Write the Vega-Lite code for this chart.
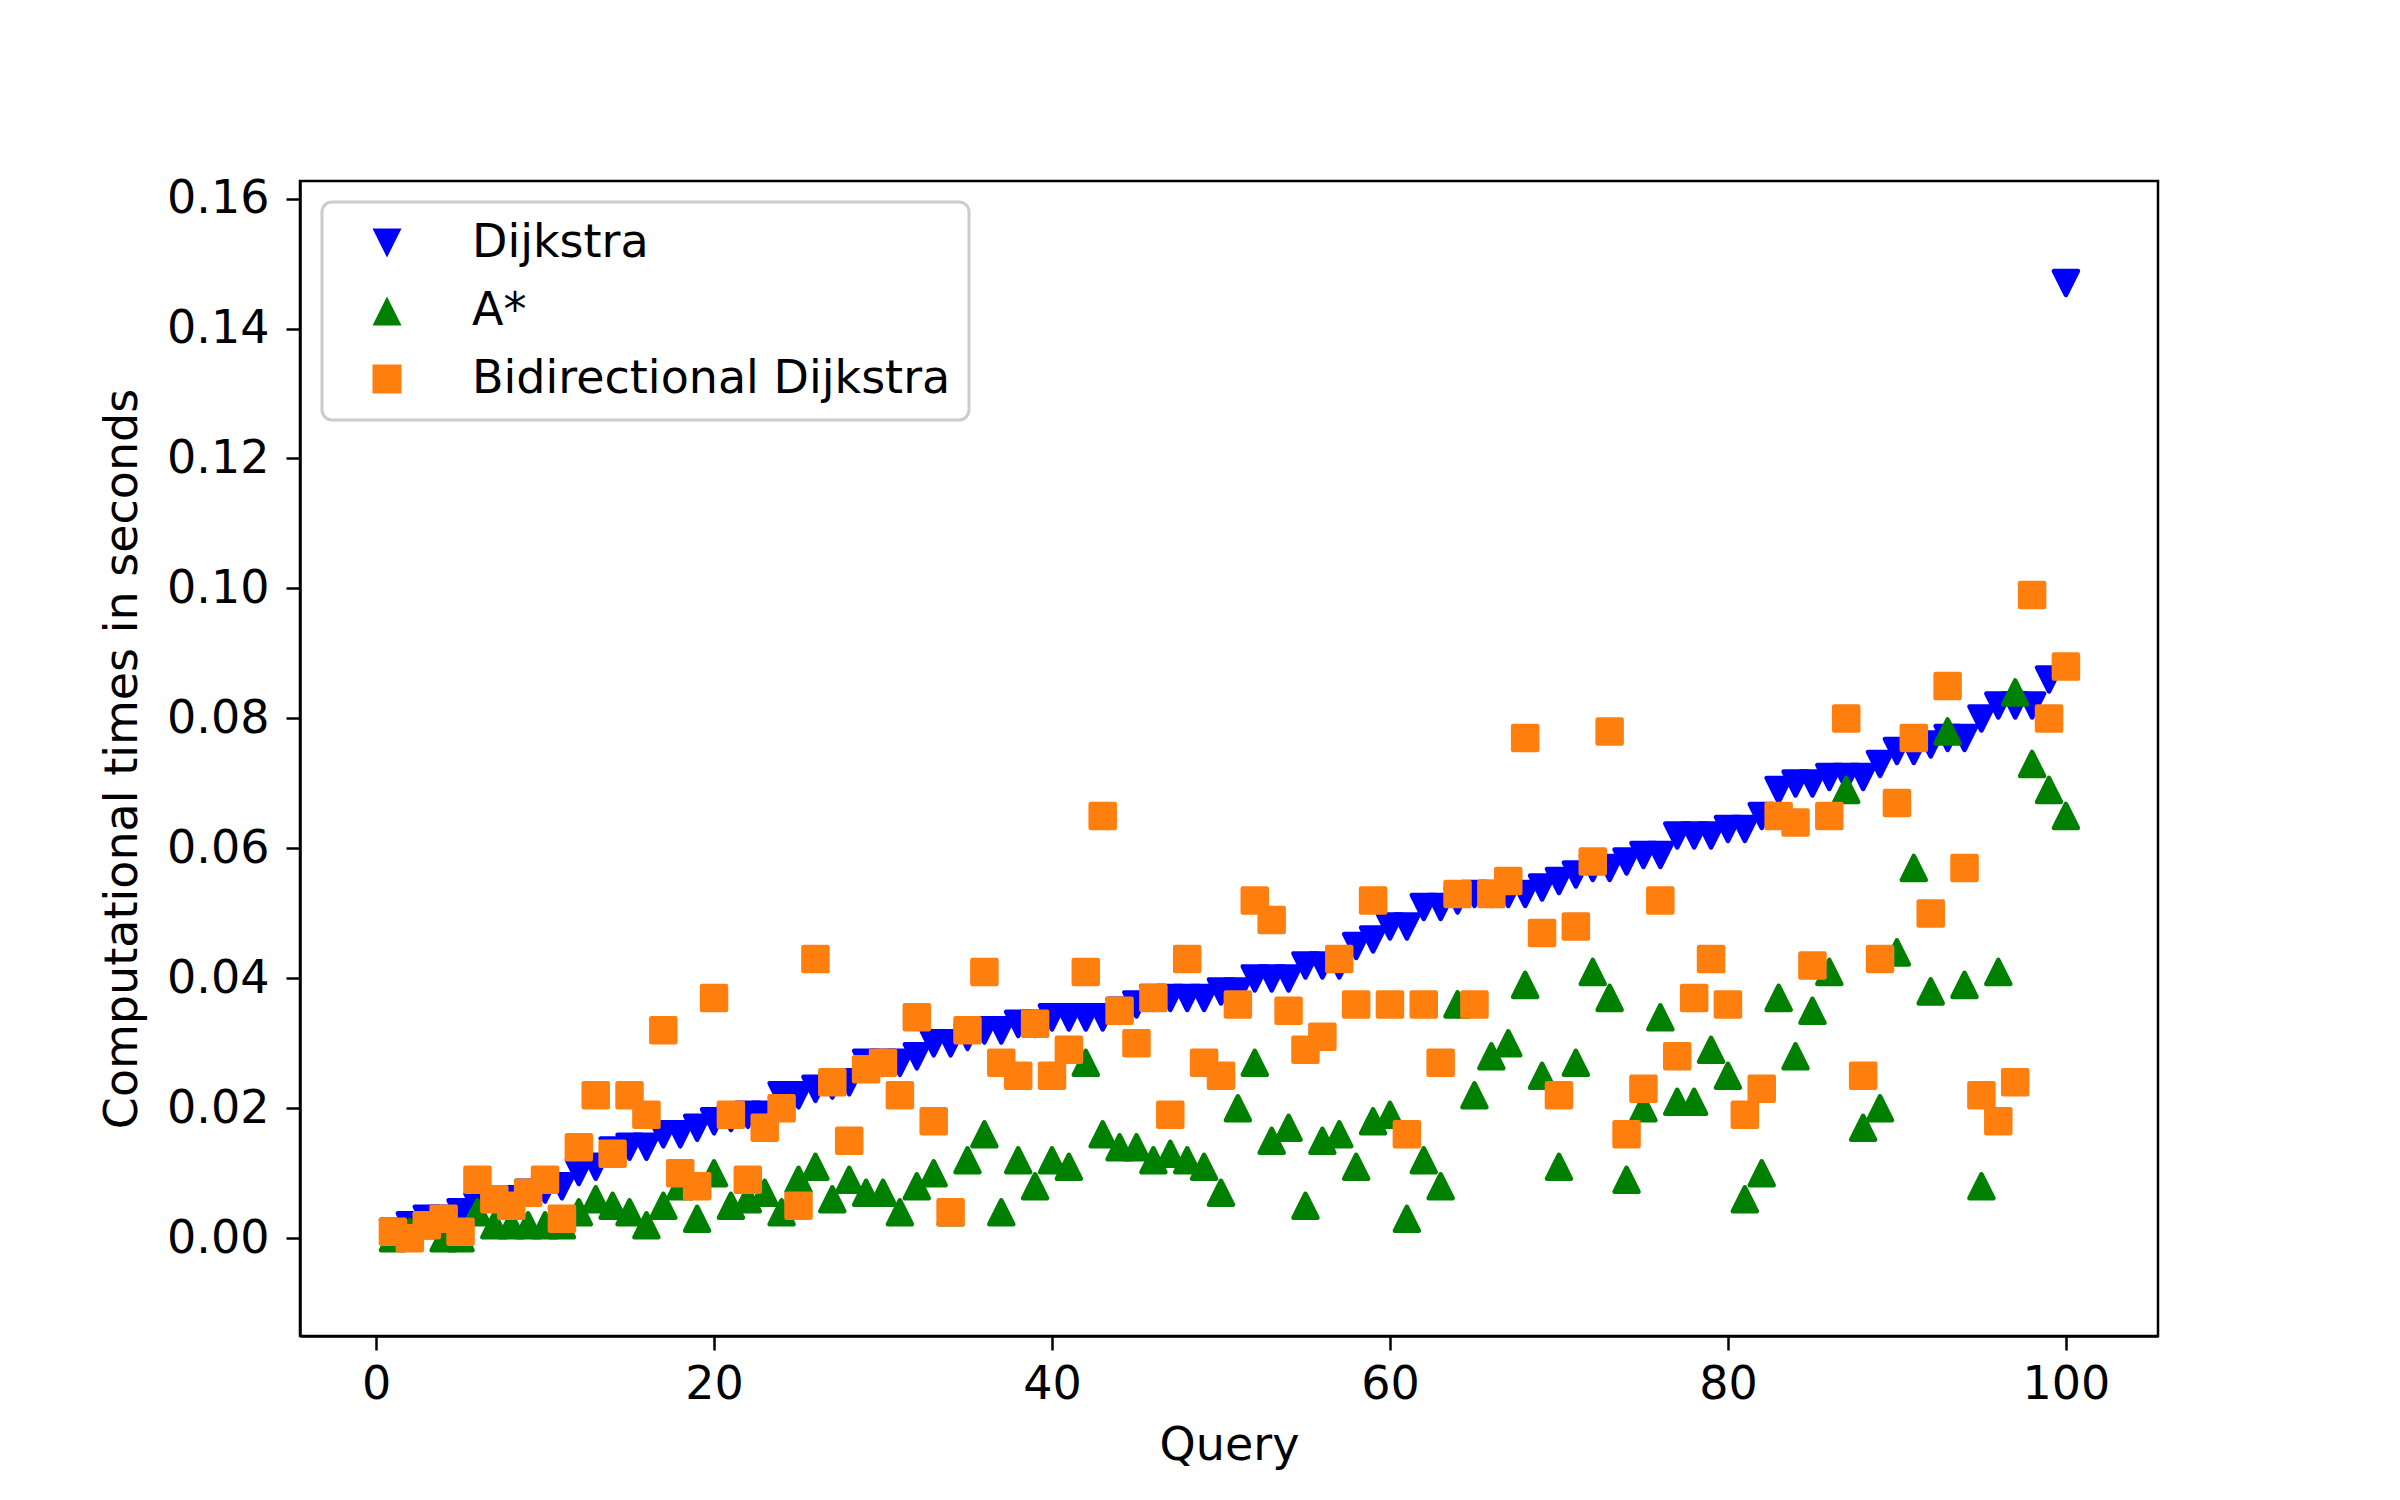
{
"$schema": "https://vega.github.io/schema/vega-lite/v6.json",
"width": 1858,
"height": 1155,
"autosize": {"type": "none"},
"padding": {"left": 300, "top": 181, "right": 242, "bottom": 164},
"background": "white",
"config": {"view": {"stroke": "black", "strokeWidth": 2.5}, "font": "DejaVu Sans",
 "legend": {"orient": "none", "legendX": 22, "legendY": 21, "fillColor": "rgba(255,255,255,0.8)", "strokeColor": "#cccccc", "strokeWidth": 3, "cornerRadius": 10, "padding": 18, "symbolSize": 841, "symbolOffset": 24, "labelOffset": 62, "rowPadding": 22, "symbolStrokeWidth": 0, "symbolOpacity": 1, "labelFont": "DejaVu Sans", "labelFontSize": 46, "labelColor": "black", "labelLimit": 0}},
"data": {"values": [
{"query":1,"algorithm":"Dijkstra","time":0.001},{"query":2,"algorithm":"Dijkstra","time":0.002},{"query":3,"algorithm":"Dijkstra","time":0.003},{"query":4,"algorithm":"Dijkstra","time":0.003},{"query":5,"algorithm":"Dijkstra","time":0.004},{"query":6,"algorithm":"Dijkstra","time":0.005},{"query":7,"algorithm":"Dijkstra","time":0.006},{"query":8,"algorithm":"Dijkstra","time":0.006},{"query":9,"algorithm":"Dijkstra","time":0.007},{"query":10,"algorithm":"Dijkstra","time":0.0075},
{"query":11,"algorithm":"Dijkstra","time":0.008},{"query":12,"algorithm":"Dijkstra","time":0.0102},{"query":13,"algorithm":"Dijkstra","time":0.011},{"query":14,"algorithm":"Dijkstra","time":0.0135},{"query":15,"algorithm":"Dijkstra","time":0.0141},{"query":16,"algorithm":"Dijkstra","time":0.0141},{"query":17,"algorithm":"Dijkstra","time":0.016},{"query":18,"algorithm":"Dijkstra","time":0.016},{"query":19,"algorithm":"Dijkstra","time":0.017},{"query":20,"algorithm":"Dijkstra","time":0.018},
{"query":21,"algorithm":"Dijkstra","time":0.0185},{"query":22,"algorithm":"Dijkstra","time":0.019},{"query":23,"algorithm":"Dijkstra","time":0.019},{"query":24,"algorithm":"Dijkstra","time":0.022},{"query":25,"algorithm":"Dijkstra","time":0.022},{"query":26,"algorithm":"Dijkstra","time":0.023},{"query":27,"algorithm":"Dijkstra","time":0.0235},{"query":28,"algorithm":"Dijkstra","time":0.024},{"query":29,"algorithm":"Dijkstra","time":0.027},{"query":30,"algorithm":"Dijkstra","time":0.027},
{"query":31,"algorithm":"Dijkstra","time":0.027},{"query":32,"algorithm":"Dijkstra","time":0.028},{"query":33,"algorithm":"Dijkstra","time":0.030},{"query":34,"algorithm":"Dijkstra","time":0.030},{"query":35,"algorithm":"Dijkstra","time":0.031},{"query":36,"algorithm":"Dijkstra","time":0.032},{"query":37,"algorithm":"Dijkstra","time":0.032},{"query":38,"algorithm":"Dijkstra","time":0.033},{"query":39,"algorithm":"Dijkstra","time":0.033},{"query":40,"algorithm":"Dijkstra","time":0.034},
{"query":41,"algorithm":"Dijkstra","time":0.034},{"query":42,"algorithm":"Dijkstra","time":0.034},{"query":43,"algorithm":"Dijkstra","time":0.034},{"query":44,"algorithm":"Dijkstra","time":0.035},{"query":45,"algorithm":"Dijkstra","time":0.036},{"query":46,"algorithm":"Dijkstra","time":0.037},{"query":47,"algorithm":"Dijkstra","time":0.037},{"query":48,"algorithm":"Dijkstra","time":0.037},{"query":49,"algorithm":"Dijkstra","time":0.037},{"query":50,"algorithm":"Dijkstra","time":0.038},
{"query":51,"algorithm":"Dijkstra","time":0.038},{"query":52,"algorithm":"Dijkstra","time":0.040},{"query":53,"algorithm":"Dijkstra","time":0.040},{"query":54,"algorithm":"Dijkstra","time":0.040},{"query":55,"algorithm":"Dijkstra","time":0.042},{"query":56,"algorithm":"Dijkstra","time":0.042},{"query":57,"algorithm":"Dijkstra","time":0.042},{"query":58,"algorithm":"Dijkstra","time":0.045},{"query":59,"algorithm":"Dijkstra","time":0.046},{"query":60,"algorithm":"Dijkstra","time":0.048},
{"query":61,"algorithm":"Dijkstra","time":0.048},{"query":62,"algorithm":"Dijkstra","time":0.051},{"query":63,"algorithm":"Dijkstra","time":0.051},{"query":64,"algorithm":"Dijkstra","time":0.052},{"query":65,"algorithm":"Dijkstra","time":0.053},{"query":66,"algorithm":"Dijkstra","time":0.053},{"query":67,"algorithm":"Dijkstra","time":0.053},{"query":68,"algorithm":"Dijkstra","time":0.053},{"query":69,"algorithm":"Dijkstra","time":0.054},{"query":70,"algorithm":"Dijkstra","time":0.055},
{"query":71,"algorithm":"Dijkstra","time":0.056},{"query":72,"algorithm":"Dijkstra","time":0.057},{"query":73,"algorithm":"Dijkstra","time":0.057},{"query":74,"algorithm":"Dijkstra","time":0.058},{"query":75,"algorithm":"Dijkstra","time":0.059},{"query":76,"algorithm":"Dijkstra","time":0.059},{"query":77,"algorithm":"Dijkstra","time":0.062},{"query":78,"algorithm":"Dijkstra","time":0.062},{"query":79,"algorithm":"Dijkstra","time":0.062},{"query":80,"algorithm":"Dijkstra","time":0.063},
{"query":81,"algorithm":"Dijkstra","time":0.063},{"query":82,"algorithm":"Dijkstra","time":0.065},{"query":83,"algorithm":"Dijkstra","time":0.069},{"query":84,"algorithm":"Dijkstra","time":0.070},{"query":85,"algorithm":"Dijkstra","time":0.070},{"query":86,"algorithm":"Dijkstra","time":0.071},{"query":87,"algorithm":"Dijkstra","time":0.071},{"query":88,"algorithm":"Dijkstra","time":0.071},{"query":89,"algorithm":"Dijkstra","time":0.073},{"query":90,"algorithm":"Dijkstra","time":0.075},
{"query":91,"algorithm":"Dijkstra","time":0.075},{"query":92,"algorithm":"Dijkstra","time":0.076},{"query":93,"algorithm":"Dijkstra","time":0.077},{"query":94,"algorithm":"Dijkstra","time":0.077},{"query":95,"algorithm":"Dijkstra","time":0.080},{"query":96,"algorithm":"Dijkstra","time":0.082},{"query":97,"algorithm":"Dijkstra","time":0.082},{"query":98,"algorithm":"Dijkstra","time":0.082},{"query":99,"algorithm":"Dijkstra","time":0.086},{"query":100,"algorithm":"Dijkstra","time":0.147},
{"query":1,"algorithm":"A*","time":0.0},{"query":2,"algorithm":"A*","time":0.001},{"query":3,"algorithm":"A*","time":0.002},{"query":4,"algorithm":"A*","time":0.0},{"query":5,"algorithm":"A*","time":0.0},{"query":6,"algorithm":"A*","time":0.004},{"query":7,"algorithm":"A*","time":0.002},{"query":8,"algorithm":"A*","time":0.002},{"query":9,"algorithm":"A*","time":0.002},{"query":10,"algorithm":"A*","time":0.002},
{"query":11,"algorithm":"A*","time":0.002},{"query":12,"algorithm":"A*","time":0.004},{"query":13,"algorithm":"A*","time":0.006},{"query":14,"algorithm":"A*","time":0.005},{"query":15,"algorithm":"A*","time":0.004},{"query":16,"algorithm":"A*","time":0.002},{"query":17,"algorithm":"A*","time":0.005},{"query":18,"algorithm":"A*","time":0.008},{"query":19,"algorithm":"A*","time":0.003},{"query":20,"algorithm":"A*","time":0.010},
{"query":21,"algorithm":"A*","time":0.005},{"query":22,"algorithm":"A*","time":0.006},{"query":23,"algorithm":"A*","time":0.007},{"query":24,"algorithm":"A*","time":0.004},{"query":25,"algorithm":"A*","time":0.009},{"query":26,"algorithm":"A*","time":0.011},{"query":27,"algorithm":"A*","time":0.006},{"query":28,"algorithm":"A*","time":0.009},{"query":29,"algorithm":"A*","time":0.007},{"query":30,"algorithm":"A*","time":0.007},
{"query":31,"algorithm":"A*","time":0.004},{"query":32,"algorithm":"A*","time":0.008},{"query":33,"algorithm":"A*","time":0.010},{"query":34,"algorithm":"A*","time":0.004},{"query":35,"algorithm":"A*","time":0.012},{"query":36,"algorithm":"A*","time":0.016},{"query":37,"algorithm":"A*","time":0.004},{"query":38,"algorithm":"A*","time":0.012},{"query":39,"algorithm":"A*","time":0.008},{"query":40,"algorithm":"A*","time":0.012},
{"query":41,"algorithm":"A*","time":0.011},{"query":42,"algorithm":"A*","time":0.027},{"query":43,"algorithm":"A*","time":0.016},{"query":44,"algorithm":"A*","time":0.014},{"query":45,"algorithm":"A*","time":0.014},{"query":46,"algorithm":"A*","time":0.012},{"query":47,"algorithm":"A*","time":0.013},{"query":48,"algorithm":"A*","time":0.012},{"query":49,"algorithm":"A*","time":0.011},{"query":50,"algorithm":"A*","time":0.007},
{"query":51,"algorithm":"A*","time":0.020},{"query":52,"algorithm":"A*","time":0.027},{"query":53,"algorithm":"A*","time":0.015},{"query":54,"algorithm":"A*","time":0.017},{"query":55,"algorithm":"A*","time":0.005},{"query":56,"algorithm":"A*","time":0.015},{"query":57,"algorithm":"A*","time":0.016},{"query":58,"algorithm":"A*","time":0.011},{"query":59,"algorithm":"A*","time":0.018},{"query":60,"algorithm":"A*","time":0.019},
{"query":61,"algorithm":"A*","time":0.003},{"query":62,"algorithm":"A*","time":0.012},{"query":63,"algorithm":"A*","time":0.008},{"query":64,"algorithm":"A*","time":0.036},{"query":65,"algorithm":"A*","time":0.022},{"query":66,"algorithm":"A*","time":0.028},{"query":67,"algorithm":"A*","time":0.030},{"query":68,"algorithm":"A*","time":0.039},{"query":69,"algorithm":"A*","time":0.025},{"query":70,"algorithm":"A*","time":0.011},
{"query":71,"algorithm":"A*","time":0.027},{"query":72,"algorithm":"A*","time":0.041},{"query":73,"algorithm":"A*","time":0.037},{"query":74,"algorithm":"A*","time":0.009},{"query":75,"algorithm":"A*","time":0.020},{"query":76,"algorithm":"A*","time":0.034},{"query":77,"algorithm":"A*","time":0.021},{"query":78,"algorithm":"A*","time":0.021},{"query":79,"algorithm":"A*","time":0.029},{"query":80,"algorithm":"A*","time":0.025},
{"query":81,"algorithm":"A*","time":0.006},{"query":82,"algorithm":"A*","time":0.010},{"query":83,"algorithm":"A*","time":0.037},{"query":84,"algorithm":"A*","time":0.028},{"query":85,"algorithm":"A*","time":0.035},{"query":86,"algorithm":"A*","time":0.041},{"query":87,"algorithm":"A*","time":0.069},{"query":88,"algorithm":"A*","time":0.017},{"query":89,"algorithm":"A*","time":0.020},{"query":90,"algorithm":"A*","time":0.044},
{"query":91,"algorithm":"A*","time":0.057},{"query":92,"algorithm":"A*","time":0.038},{"query":93,"algorithm":"A*","time":0.078},{"query":94,"algorithm":"A*","time":0.039},{"query":95,"algorithm":"A*","time":0.008},{"query":96,"algorithm":"A*","time":0.041},{"query":97,"algorithm":"A*","time":0.084},{"query":98,"algorithm":"A*","time":0.073},{"query":99,"algorithm":"A*","time":0.069},{"query":100,"algorithm":"A*","time":0.065},
{"query":1,"algorithm":"Bidirectional Dijkstra","time":0.001},{"query":2,"algorithm":"Bidirectional Dijkstra","time":0.0},{"query":3,"algorithm":"Bidirectional Dijkstra","time":0.002},{"query":4,"algorithm":"Bidirectional Dijkstra","time":0.003},{"query":5,"algorithm":"Bidirectional Dijkstra","time":0.001},{"query":6,"algorithm":"Bidirectional Dijkstra","time":0.009},{"query":7,"algorithm":"Bidirectional Dijkstra","time":0.006},{"query":8,"algorithm":"Bidirectional Dijkstra","time":0.005},{"query":9,"algorithm":"Bidirectional Dijkstra","time":0.007},{"query":10,"algorithm":"Bidirectional Dijkstra","time":0.009},
{"query":11,"algorithm":"Bidirectional Dijkstra","time":0.003},{"query":12,"algorithm":"Bidirectional Dijkstra","time":0.014},{"query":13,"algorithm":"Bidirectional Dijkstra","time":0.022},{"query":14,"algorithm":"Bidirectional Dijkstra","time":0.013},{"query":15,"algorithm":"Bidirectional Dijkstra","time":0.022},{"query":16,"algorithm":"Bidirectional Dijkstra","time":0.019},{"query":17,"algorithm":"Bidirectional Dijkstra","time":0.032},{"query":18,"algorithm":"Bidirectional Dijkstra","time":0.010},{"query":19,"algorithm":"Bidirectional Dijkstra","time":0.008},{"query":20,"algorithm":"Bidirectional Dijkstra","time":0.037},
{"query":21,"algorithm":"Bidirectional Dijkstra","time":0.019},{"query":22,"algorithm":"Bidirectional Dijkstra","time":0.009},{"query":23,"algorithm":"Bidirectional Dijkstra","time":0.017},{"query":24,"algorithm":"Bidirectional Dijkstra","time":0.020},{"query":25,"algorithm":"Bidirectional Dijkstra","time":0.005},{"query":26,"algorithm":"Bidirectional Dijkstra","time":0.043},{"query":27,"algorithm":"Bidirectional Dijkstra","time":0.024},{"query":28,"algorithm":"Bidirectional Dijkstra","time":0.015},{"query":29,"algorithm":"Bidirectional Dijkstra","time":0.026},{"query":30,"algorithm":"Bidirectional Dijkstra","time":0.027},
{"query":31,"algorithm":"Bidirectional Dijkstra","time":0.022},{"query":32,"algorithm":"Bidirectional Dijkstra","time":0.034},{"query":33,"algorithm":"Bidirectional Dijkstra","time":0.018},{"query":34,"algorithm":"Bidirectional Dijkstra","time":0.004},{"query":35,"algorithm":"Bidirectional Dijkstra","time":0.032},{"query":36,"algorithm":"Bidirectional Dijkstra","time":0.041},{"query":37,"algorithm":"Bidirectional Dijkstra","time":0.027},{"query":38,"algorithm":"Bidirectional Dijkstra","time":0.025},{"query":39,"algorithm":"Bidirectional Dijkstra","time":0.033},{"query":40,"algorithm":"Bidirectional Dijkstra","time":0.025},
{"query":41,"algorithm":"Bidirectional Dijkstra","time":0.029},{"query":42,"algorithm":"Bidirectional Dijkstra","time":0.041},{"query":43,"algorithm":"Bidirectional Dijkstra","time":0.065},{"query":44,"algorithm":"Bidirectional Dijkstra","time":0.035},{"query":45,"algorithm":"Bidirectional Dijkstra","time":0.030},{"query":46,"algorithm":"Bidirectional Dijkstra","time":0.037},{"query":47,"algorithm":"Bidirectional Dijkstra","time":0.019},{"query":48,"algorithm":"Bidirectional Dijkstra","time":0.043},{"query":49,"algorithm":"Bidirectional Dijkstra","time":0.027},{"query":50,"algorithm":"Bidirectional Dijkstra","time":0.025},
{"query":51,"algorithm":"Bidirectional Dijkstra","time":0.036},{"query":52,"algorithm":"Bidirectional Dijkstra","time":0.052},{"query":53,"algorithm":"Bidirectional Dijkstra","time":0.049},{"query":54,"algorithm":"Bidirectional Dijkstra","time":0.035},{"query":55,"algorithm":"Bidirectional Dijkstra","time":0.029},{"query":56,"algorithm":"Bidirectional Dijkstra","time":0.031},{"query":57,"algorithm":"Bidirectional Dijkstra","time":0.043},{"query":58,"algorithm":"Bidirectional Dijkstra","time":0.036},{"query":59,"algorithm":"Bidirectional Dijkstra","time":0.052},{"query":60,"algorithm":"Bidirectional Dijkstra","time":0.036},
{"query":61,"algorithm":"Bidirectional Dijkstra","time":0.016},{"query":62,"algorithm":"Bidirectional Dijkstra","time":0.036},{"query":63,"algorithm":"Bidirectional Dijkstra","time":0.027},{"query":64,"algorithm":"Bidirectional Dijkstra","time":0.053},{"query":65,"algorithm":"Bidirectional Dijkstra","time":0.036},{"query":66,"algorithm":"Bidirectional Dijkstra","time":0.053},{"query":67,"algorithm":"Bidirectional Dijkstra","time":0.055},{"query":68,"algorithm":"Bidirectional Dijkstra","time":0.077},{"query":69,"algorithm":"Bidirectional Dijkstra","time":0.047},{"query":70,"algorithm":"Bidirectional Dijkstra","time":0.022},
{"query":71,"algorithm":"Bidirectional Dijkstra","time":0.048},{"query":72,"algorithm":"Bidirectional Dijkstra","time":0.058},{"query":73,"algorithm":"Bidirectional Dijkstra","time":0.078},{"query":74,"algorithm":"Bidirectional Dijkstra","time":0.016},{"query":75,"algorithm":"Bidirectional Dijkstra","time":0.023},{"query":76,"algorithm":"Bidirectional Dijkstra","time":0.052},{"query":77,"algorithm":"Bidirectional Dijkstra","time":0.028},{"query":78,"algorithm":"Bidirectional Dijkstra","time":0.037},{"query":79,"algorithm":"Bidirectional Dijkstra","time":0.043},{"query":80,"algorithm":"Bidirectional Dijkstra","time":0.036},
{"query":81,"algorithm":"Bidirectional Dijkstra","time":0.019},{"query":82,"algorithm":"Bidirectional Dijkstra","time":0.023},{"query":83,"algorithm":"Bidirectional Dijkstra","time":0.065},{"query":84,"algorithm":"Bidirectional Dijkstra","time":0.064},{"query":85,"algorithm":"Bidirectional Dijkstra","time":0.042},{"query":86,"algorithm":"Bidirectional Dijkstra","time":0.065},{"query":87,"algorithm":"Bidirectional Dijkstra","time":0.080},{"query":88,"algorithm":"Bidirectional Dijkstra","time":0.025},{"query":89,"algorithm":"Bidirectional Dijkstra","time":0.043},{"query":90,"algorithm":"Bidirectional Dijkstra","time":0.067},
{"query":91,"algorithm":"Bidirectional Dijkstra","time":0.077},{"query":92,"algorithm":"Bidirectional Dijkstra","time":0.050},{"query":93,"algorithm":"Bidirectional Dijkstra","time":0.085},{"query":94,"algorithm":"Bidirectional Dijkstra","time":0.057},{"query":95,"algorithm":"Bidirectional Dijkstra","time":0.022},{"query":96,"algorithm":"Bidirectional Dijkstra","time":0.018},{"query":97,"algorithm":"Bidirectional Dijkstra","time":0.024},{"query":98,"algorithm":"Bidirectional Dijkstra","time":0.099},{"query":99,"algorithm":"Bidirectional Dijkstra","time":0.080},{"query":100,"algorithm":"Bidirectional Dijkstra","time":0.088}
]},
"mark": {"type": "point", "filled": true, "size": 576, "strokeWidth": 4.5, "strokeJoin": "round", "opacity": 1, "fillOpacity": 1, "strokeOpacity": 1},
"encoding": {
"x": {"field": "query", "type": "quantitative",
 "scale": {"domain": [-4.5, 105.45], "nice": false, "zero": false},
 "axis": {"title": "Query", "values": [0, 20, 40, 60, 80, 100], "grid": false, "domainColor": "black", "domainWidth": 2.5, "tickColor": "black", "tickWidth": 2.5, "tickSize": 14, "labelFont": "DejaVu Sans", "labelFontSize": 46, "labelColor": "black", "labelPadding": 12, "labelFlush": false, "labelOverlap": false, "titleFont": "DejaVu Sans", "titleFontSize": 46, "titleFontWeight": "normal", "titleColor": "black", "titlePadding": 16}},
"y": {"field": "time", "type": "quantitative",
 "scale": {"domain": [-0.01503, 0.1627], "nice": false, "zero": false},
 "axis": {"title": "Computational times in seconds", "values": [0, 0.02, 0.04, 0.06, 0.08, 0.1, 0.12, 0.14, 0.16], "format": ".2f", "grid": false, "domainColor": "black", "domainWidth": 2.5, "tickColor": "black", "tickWidth": 2.5, "tickSize": 14, "labelFont": "DejaVu Sans", "labelFontSize": 46, "labelColor": "black", "labelPadding": 17, "labelFlush": false, "labelOverlap": false, "titleFont": "DejaVu Sans", "titleFontSize": 46, "titleFontWeight": "normal", "titleColor": "black", "titlePadding": 20}},
"color": {"field": "algorithm", "type": "nominal",
 "scale": {"domain": ["Dijkstra", "A*", "Bidirectional Dijkstra"], "range": ["#0000ff", "#008000", "#ff7f0e"]},
 "legend": {"title": null}},
"shape": {"field": "algorithm", "type": "nominal",
 "scale": {"domain": ["Dijkstra", "A*", "Bidirectional Dijkstra"], "range": ["M-1,-1L1,-1L0,1Z", "M0,-1L1,1L-1,1Z", "M-1,-1L1,-1L1,1L-1,1Z"]},
 "legend": {"title": null}},
"stroke": {"field": "algorithm", "type": "nominal",
 "scale": {"domain": ["Dijkstra", "A*", "Bidirectional Dijkstra"], "range": ["#0000ff", "#008000", "#ff7f0e"]},
 "legend": null}
}
}
